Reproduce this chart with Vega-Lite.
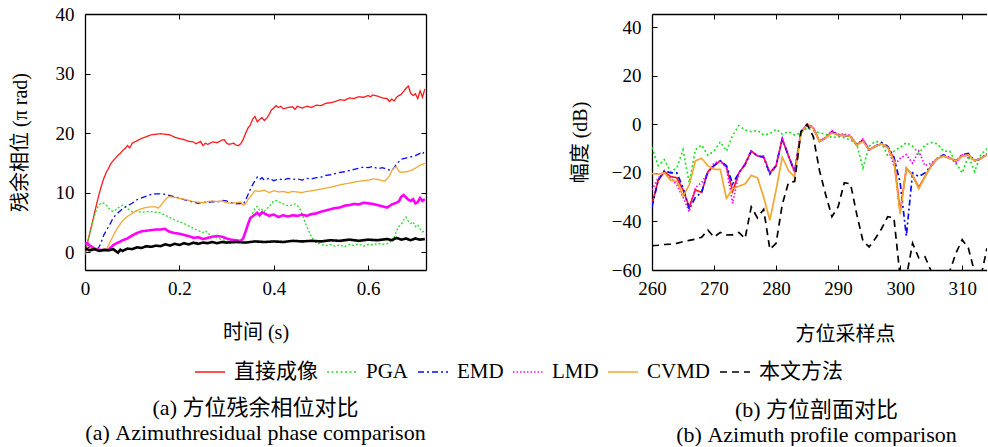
{
  "$schema": "https://vega.github.io/schema/vega-lite/v6.json",
  "padding": {"left": 9, "top": 5, "right": 0, "bottom": 0},
  "background": "white",
  "config": {
    "font": "Liberation Serif, Noto Sans CJK SC",
    "view": {"stroke": null},
    "axis": {
      "grid": false,
      "domainColor": "#000",
      "domainWidth": 1.3,
      "tickColor": "#000",
      "tickWidth": 1,
      "tickSize": -5,
      "labelFlush": false,
      "labelColor": "#000",
      "labelFont": "Liberation Serif, Noto Sans CJK SC",
      "labelFontSize": 19,
      "labelPadding": 16,
      "titleColor": "#000",
      "titleFont": "Liberation Serif, Noto Sans CJK SC",
      "titleFontSize": 20,
      "titleFontWeight": "normal"
    },
    "legend": {
      "orient": "none",
      "legendX": 109,
      "legendY": 342,
      "direction": "horizontal",
      "columns": 6,
      "symbolType": "stroke",
      "symbolSize": 900,
      "symbolStrokeWidth": 1.6,
      "labelFont": "Liberation Serif, Noto Sans CJK SC",
      "labelFontSize": 21,
      "labelColor": "#000",
      "labelOffset": 8,
      "columnPadding": 5,
      "padding": 0
    },
    "title": {
      "font": "Liberation Serif, Noto Sans CJK SC",
      "fontSize": 22,
      "fontWeight": "normal",
      "color": "#000",
      "lineHeight": 25
    }
  },
  "datasets": {
    "phase": [
      {"t": 0, "v": -0.5, "m": "直接成像"}, {"t": 0.005, "v": 1.5, "m": "直接成像"}, {"t": 0.01, "v": 3.2, "m": "直接成像"}, {"t": 0.015, "v": 4.8, "m": "直接成像"}, {"t": 0.02, "v": 6.5, "m": "直接成像"}, {"t": 0.025, "v": 8.2, "m": "直接成像"}, {"t": 0.03, "v": 9.8, "m": "直接成像"}, {"t": 0.035, "v": 11.2, "m": "直接成像"}, {"t": 0.04, "v": 12.4, "m": "直接成像"}, {"t": 0.045, "v": 13.4, "m": "直接成像"}, {"t": 0.05, "v": 14.1, "m": "直接成像"}, {"t": 0.055, "v": 14.9, "m": "直接成像"}, {"t": 0.06, "v": 15.4, "m": "直接成像"}, {"t": 0.065, "v": 15.8, "m": "直接成像"}, {"t": 0.07, "v": 16.3, "m": "直接成像"}, {"t": 0.075, "v": 16.6, "m": "直接成像"}, {"t": 0.08, "v": 17.1, "m": "直接成像"}, {"t": 0.085, "v": 17.4, "m": "直接成像"}, {"t": 0.09, "v": 17.9, "m": "直接成像"}, {"t": 0.095, "v": 17.5, "m": "直接成像"}, {"t": 0.1, "v": 18.3, "m": "直接成像"}, {"t": 0.11, "v": 18.7, "m": "直接成像"}, {"t": 0.12, "v": 19.1, "m": "直接成像"}, {"t": 0.13, "v": 19.4, "m": "直接成像"}, {"t": 0.14, "v": 19.7, "m": "直接成像"}, {"t": 0.15, "v": 19.8, "m": "直接成像"}, {"t": 0.16, "v": 19.9, "m": "直接成像"}, {"t": 0.17, "v": 19.8, "m": "直接成像"}, {"t": 0.18, "v": 19.7, "m": "直接成像"}, {"t": 0.19, "v": 19.3, "m": "直接成像"}, {"t": 0.2, "v": 19.1, "m": "直接成像"}, {"t": 0.21, "v": 18.9, "m": "直接成像"}, {"t": 0.22, "v": 18.6, "m": "直接成像"}, {"t": 0.23, "v": 18.5, "m": "直接成像"}, {"t": 0.235, "v": 18.2, "m": "直接成像"}, {"t": 0.24, "v": 18.4, "m": "直接成像"}, {"t": 0.245, "v": 18.6, "m": "直接成像"}, {"t": 0.25, "v": 17.9, "m": "直接成像"}, {"t": 0.255, "v": 18.3, "m": "直接成像"}, {"t": 0.26, "v": 18.1, "m": "直接成像"}, {"t": 0.27, "v": 18.5, "m": "直接成像"}, {"t": 0.28, "v": 18.4, "m": "直接成像"}, {"t": 0.29, "v": 18.8, "m": "直接成像"}, {"t": 0.295, "v": 18.9, "m": "直接成像"}, {"t": 0.3, "v": 18.3, "m": "直接成像"}, {"t": 0.305, "v": 18.1, "m": "直接成像"}, {"t": 0.31, "v": 18.2, "m": "直接成像"}, {"t": 0.315, "v": 18.3, "m": "直接成像"}, {"t": 0.32, "v": 18.0, "m": "直接成像"}, {"t": 0.325, "v": 17.9, "m": "直接成像"}, {"t": 0.33, "v": 18.2, "m": "直接成像"}, {"t": 0.335, "v": 18.9, "m": "直接成像"}, {"t": 0.34, "v": 19.9, "m": "直接成像"}, {"t": 0.345, "v": 20.8, "m": "直接成像"}, {"t": 0.35, "v": 21.3, "m": "直接成像"}, {"t": 0.355, "v": 22.3, "m": "直接成像"}, {"t": 0.36, "v": 22.8, "m": "直接成像"}, {"t": 0.365, "v": 21.9, "m": "直接成像"}, {"t": 0.37, "v": 22.3, "m": "直接成像"}, {"t": 0.375, "v": 22.6, "m": "直接成像"}, {"t": 0.38, "v": 22.1, "m": "直接成像"}, {"t": 0.385, "v": 22.5, "m": "直接成像"}, {"t": 0.39, "v": 23.1, "m": "直接成像"}, {"t": 0.395, "v": 23.9, "m": "直接成像"}, {"t": 0.4, "v": 24.2, "m": "直接成像"}, {"t": 0.405, "v": 24.6, "m": "直接成像"}, {"t": 0.41, "v": 24.3, "m": "直接成像"}, {"t": 0.415, "v": 24.5, "m": "直接成像"}, {"t": 0.42, "v": 24.1, "m": "直接成像"}, {"t": 0.43, "v": 24.3, "m": "直接成像"}, {"t": 0.44, "v": 24.4, "m": "直接成像"}, {"t": 0.445, "v": 24.0, "m": "直接成像"}, {"t": 0.45, "v": 24.5, "m": "直接成像"}, {"t": 0.46, "v": 24.2, "m": "直接成像"}, {"t": 0.47, "v": 24.5, "m": "直接成像"}, {"t": 0.48, "v": 24.3, "m": "直接成像"}, {"t": 0.49, "v": 24.7, "m": "直接成像"}, {"t": 0.5, "v": 24.6, "m": "直接成像"}, {"t": 0.51, "v": 25.0, "m": "直接成像"}, {"t": 0.52, "v": 25.1, "m": "直接成像"}, {"t": 0.53, "v": 25.3, "m": "直接成像"}, {"t": 0.54, "v": 25.6, "m": "直接成像"}, {"t": 0.55, "v": 25.5, "m": "直接成像"}, {"t": 0.56, "v": 25.9, "m": "直接成像"}, {"t": 0.57, "v": 25.8, "m": "直接成像"}, {"t": 0.58, "v": 26.1, "m": "直接成像"}, {"t": 0.59, "v": 26.0, "m": "直接成像"}, {"t": 0.6, "v": 26.3, "m": "直接成像"}, {"t": 0.605, "v": 26.1, "m": "直接成像"}, {"t": 0.61, "v": 26.4, "m": "直接成像"}, {"t": 0.62, "v": 26.2, "m": "直接成像"}, {"t": 0.63, "v": 25.9, "m": "直接成像"}, {"t": 0.64, "v": 25.8, "m": "直接成像"}, {"t": 0.645, "v": 25.3, "m": "直接成像"}, {"t": 0.65, "v": 25.7, "m": "直接成像"}, {"t": 0.655, "v": 25.4, "m": "直接成像"}, {"t": 0.66, "v": 26.0, "m": "直接成像"}, {"t": 0.665, "v": 26.3, "m": "直接成像"}, {"t": 0.67, "v": 26.5, "m": "直接成像"}, {"t": 0.675, "v": 27.0, "m": "直接成像"}, {"t": 0.68, "v": 27.5, "m": "直接成像"}, {"t": 0.685, "v": 27.9, "m": "直接成像"}, {"t": 0.69, "v": 26.7, "m": "直接成像"}, {"t": 0.695, "v": 26.3, "m": "直接成像"}, {"t": 0.7, "v": 26.6, "m": "直接成像"}, {"t": 0.705, "v": 25.8, "m": "直接成像"}, {"t": 0.71, "v": 27.1, "m": "直接成像"}, {"t": 0.715, "v": 26.0, "m": "直接成像"}, {"t": 0.72, "v": 27.4, "m": "直接成像"},

      {"t": 0, "v": 0.3, "m": "PGA"}, {"t": 0.005, "v": 1.6, "m": "PGA"}, {"t": 0.01, "v": 3.0, "m": "PGA"}, {"t": 0.015, "v": 4.6, "m": "PGA"}, {"t": 0.02, "v": 6.1, "m": "PGA"}, {"t": 0.025, "v": 7.3, "m": "PGA"}, {"t": 0.03, "v": 7.9, "m": "PGA"}, {"t": 0.035, "v": 8.3, "m": "PGA"}, {"t": 0.04, "v": 8.2, "m": "PGA"}, {"t": 0.045, "v": 7.9, "m": "PGA"}, {"t": 0.05, "v": 7.4, "m": "PGA"}, {"t": 0.055, "v": 7.0, "m": "PGA"}, {"t": 0.06, "v": 6.8, "m": "PGA"}, {"t": 0.065, "v": 7.1, "m": "PGA"}, {"t": 0.07, "v": 7.4, "m": "PGA"}, {"t": 0.075, "v": 7.7, "m": "PGA"}, {"t": 0.08, "v": 7.9, "m": "PGA"}, {"t": 0.085, "v": 7.7, "m": "PGA"}, {"t": 0.09, "v": 7.3, "m": "PGA"}, {"t": 0.095, "v": 7.0, "m": "PGA"}, {"t": 0.1, "v": 6.8, "m": "PGA"}, {"t": 0.11, "v": 6.9, "m": "PGA"}, {"t": 0.12, "v": 6.7, "m": "PGA"}, {"t": 0.13, "v": 6.8, "m": "PGA"}, {"t": 0.14, "v": 6.8, "m": "PGA"}, {"t": 0.15, "v": 6.7, "m": "PGA"}, {"t": 0.16, "v": 6.6, "m": "PGA"}, {"t": 0.17, "v": 6.2, "m": "PGA"}, {"t": 0.18, "v": 5.8, "m": "PGA"}, {"t": 0.19, "v": 5.4, "m": "PGA"}, {"t": 0.2, "v": 5.1, "m": "PGA"}, {"t": 0.21, "v": 4.8, "m": "PGA"}, {"t": 0.22, "v": 4.4, "m": "PGA"}, {"t": 0.23, "v": 4.0, "m": "PGA"}, {"t": 0.24, "v": 3.6, "m": "PGA"}, {"t": 0.245, "v": 3.5, "m": "PGA"}, {"t": 0.25, "v": 3.3, "m": "PGA"}, {"t": 0.255, "v": 3.6, "m": "PGA"}, {"t": 0.26, "v": 3.2, "m": "PGA"}, {"t": 0.27, "v": 2.6, "m": "PGA"}, {"t": 0.28, "v": 2.4, "m": "PGA"}, {"t": 0.29, "v": 2.1, "m": "PGA"}, {"t": 0.3, "v": 1.9, "m": "PGA"}, {"t": 0.31, "v": 1.7, "m": "PGA"}, {"t": 0.32, "v": 1.7, "m": "PGA"}, {"t": 0.33, "v": 1.8, "m": "PGA"}, {"t": 0.335, "v": 2.4, "m": "PGA"}, {"t": 0.34, "v": 3.2, "m": "PGA"}, {"t": 0.345, "v": 4.3, "m": "PGA"}, {"t": 0.35, "v": 5.5, "m": "PGA"}, {"t": 0.355, "v": 6.5, "m": "PGA"}, {"t": 0.36, "v": 7.3, "m": "PGA"}, {"t": 0.365, "v": 7.7, "m": "PGA"}, {"t": 0.37, "v": 7.0, "m": "PGA"}, {"t": 0.375, "v": 7.2, "m": "PGA"}, {"t": 0.38, "v": 6.8, "m": "PGA"}, {"t": 0.385, "v": 7.3, "m": "PGA"}, {"t": 0.39, "v": 7.6, "m": "PGA"}, {"t": 0.395, "v": 8.2, "m": "PGA"}, {"t": 0.4, "v": 8.6, "m": "PGA"}, {"t": 0.405, "v": 8.7, "m": "PGA"}, {"t": 0.41, "v": 8.5, "m": "PGA"}, {"t": 0.415, "v": 8.3, "m": "PGA"}, {"t": 0.42, "v": 8.1, "m": "PGA"}, {"t": 0.43, "v": 7.8, "m": "PGA"}, {"t": 0.44, "v": 7.9, "m": "PGA"}, {"t": 0.445, "v": 8.1, "m": "PGA"}, {"t": 0.45, "v": 7.8, "m": "PGA"}, {"t": 0.455, "v": 7.3, "m": "PGA"}, {"t": 0.46, "v": 6.4, "m": "PGA"}, {"t": 0.465, "v": 5.3, "m": "PGA"}, {"t": 0.47, "v": 4.3, "m": "PGA"}, {"t": 0.475, "v": 3.4, "m": "PGA"}, {"t": 0.48, "v": 2.6, "m": "PGA"}, {"t": 0.485, "v": 2.0, "m": "PGA"}, {"t": 0.49, "v": 1.6, "m": "PGA"}, {"t": 0.5, "v": 1.3, "m": "PGA"}, {"t": 0.51, "v": 1.1, "m": "PGA"}, {"t": 0.52, "v": 1.3, "m": "PGA"}, {"t": 0.53, "v": 1.0, "m": "PGA"}, {"t": 0.54, "v": 1.2, "m": "PGA"}, {"t": 0.55, "v": 0.9, "m": "PGA"}, {"t": 0.56, "v": 1.3, "m": "PGA"}, {"t": 0.57, "v": 1.1, "m": "PGA"}, {"t": 0.58, "v": 1.4, "m": "PGA"}, {"t": 0.59, "v": 1.0, "m": "PGA"}, {"t": 0.6, "v": 1.3, "m": "PGA"}, {"t": 0.61, "v": 1.2, "m": "PGA"}, {"t": 0.62, "v": 1.5, "m": "PGA"}, {"t": 0.63, "v": 1.3, "m": "PGA"}, {"t": 0.64, "v": 1.4, "m": "PGA"}, {"t": 0.645, "v": 1.8, "m": "PGA"}, {"t": 0.65, "v": 1.6, "m": "PGA"}, {"t": 0.655, "v": 2.4, "m": "PGA"}, {"t": 0.66, "v": 3.6, "m": "PGA"}, {"t": 0.665, "v": 4.3, "m": "PGA"}, {"t": 0.67, "v": 4.6, "m": "PGA"}, {"t": 0.675, "v": 5.4, "m": "PGA"}, {"t": 0.68, "v": 5.9, "m": "PGA"}, {"t": 0.685, "v": 5.2, "m": "PGA"}, {"t": 0.69, "v": 4.8, "m": "PGA"}, {"t": 0.695, "v": 5.1, "m": "PGA"}, {"t": 0.7, "v": 4.3, "m": "PGA"}, {"t": 0.705, "v": 4.6, "m": "PGA"}, {"t": 0.71, "v": 3.9, "m": "PGA"}, {"t": 0.715, "v": 3.4, "m": "PGA"}, {"t": 0.72, "v": 3.6, "m": "PGA"},

      {"t": 0, "v": 0.3, "m": "EMD"}, {"t": 0.01, "v": 0.9, "m": "EMD"}, {"t": 0.02, "v": 0.6, "m": "EMD"}, {"t": 0.025, "v": 0.4, "m": "EMD"}, {"t": 0.03, "v": 0.9, "m": "EMD"}, {"t": 0.035, "v": 1.8, "m": "EMD"}, {"t": 0.04, "v": 2.9, "m": "EMD"}, {"t": 0.045, "v": 3.6, "m": "EMD"}, {"t": 0.05, "v": 4.3, "m": "EMD"}, {"t": 0.055, "v": 5.0, "m": "EMD"}, {"t": 0.06, "v": 5.8, "m": "EMD"}, {"t": 0.07, "v": 6.6, "m": "EMD"}, {"t": 0.08, "v": 7.3, "m": "EMD"}, {"t": 0.09, "v": 7.8, "m": "EMD"}, {"t": 0.1, "v": 8.2, "m": "EMD"}, {"t": 0.11, "v": 8.8, "m": "EMD"}, {"t": 0.12, "v": 9.1, "m": "EMD"}, {"t": 0.13, "v": 9.4, "m": "EMD"}, {"t": 0.14, "v": 9.7, "m": "EMD"}, {"t": 0.15, "v": 9.8, "m": "EMD"}, {"t": 0.16, "v": 9.8, "m": "EMD"}, {"t": 0.17, "v": 9.7, "m": "EMD"}, {"t": 0.18, "v": 9.5, "m": "EMD"}, {"t": 0.19, "v": 9.3, "m": "EMD"}, {"t": 0.2, "v": 9.1, "m": "EMD"}, {"t": 0.21, "v": 8.8, "m": "EMD"}, {"t": 0.22, "v": 8.6, "m": "EMD"}, {"t": 0.23, "v": 8.4, "m": "EMD"}, {"t": 0.24, "v": 8.2, "m": "EMD"}, {"t": 0.25, "v": 8.4, "m": "EMD"}, {"t": 0.26, "v": 8.3, "m": "EMD"}, {"t": 0.27, "v": 8.5, "m": "EMD"}, {"t": 0.28, "v": 8.4, "m": "EMD"}, {"t": 0.29, "v": 8.7, "m": "EMD"}, {"t": 0.3, "v": 8.6, "m": "EMD"}, {"t": 0.31, "v": 8.3, "m": "EMD"}, {"t": 0.32, "v": 8.1, "m": "EMD"}, {"t": 0.33, "v": 8.2, "m": "EMD"}, {"t": 0.335, "v": 8.0, "m": "EMD"}, {"t": 0.34, "v": 8.7, "m": "EMD"}, {"t": 0.345, "v": 9.6, "m": "EMD"}, {"t": 0.35, "v": 10.5, "m": "EMD"}, {"t": 0.355, "v": 11.3, "m": "EMD"}, {"t": 0.36, "v": 12.0, "m": "EMD"}, {"t": 0.365, "v": 12.6, "m": "EMD"}, {"t": 0.37, "v": 12.2, "m": "EMD"}, {"t": 0.375, "v": 12.5, "m": "EMD"}, {"t": 0.38, "v": 12.1, "m": "EMD"}, {"t": 0.39, "v": 12.4, "m": "EMD"}, {"t": 0.4, "v": 12.0, "m": "EMD"}, {"t": 0.41, "v": 12.3, "m": "EMD"}, {"t": 0.42, "v": 12.1, "m": "EMD"}, {"t": 0.43, "v": 12.4, "m": "EMD"}, {"t": 0.44, "v": 12.2, "m": "EMD"}, {"t": 0.45, "v": 12.3, "m": "EMD"}, {"t": 0.46, "v": 12.1, "m": "EMD"}, {"t": 0.47, "v": 12.4, "m": "EMD"}, {"t": 0.48, "v": 12.3, "m": "EMD"}, {"t": 0.49, "v": 12.5, "m": "EMD"}, {"t": 0.5, "v": 12.6, "m": "EMD"}, {"t": 0.51, "v": 12.9, "m": "EMD"}, {"t": 0.52, "v": 13.0, "m": "EMD"}, {"t": 0.53, "v": 13.2, "m": "EMD"}, {"t": 0.54, "v": 13.4, "m": "EMD"}, {"t": 0.55, "v": 13.5, "m": "EMD"}, {"t": 0.56, "v": 13.7, "m": "EMD"}, {"t": 0.57, "v": 13.9, "m": "EMD"}, {"t": 0.58, "v": 14.1, "m": "EMD"}, {"t": 0.59, "v": 14.3, "m": "EMD"}, {"t": 0.6, "v": 14.2, "m": "EMD"}, {"t": 0.61, "v": 14.4, "m": "EMD"}, {"t": 0.62, "v": 14.0, "m": "EMD"}, {"t": 0.63, "v": 14.2, "m": "EMD"}, {"t": 0.64, "v": 13.9, "m": "EMD"}, {"t": 0.65, "v": 13.7, "m": "EMD"}, {"t": 0.655, "v": 14.2, "m": "EMD"}, {"t": 0.66, "v": 14.8, "m": "EMD"}, {"t": 0.67, "v": 15.6, "m": "EMD"}, {"t": 0.68, "v": 15.8, "m": "EMD"}, {"t": 0.69, "v": 16.0, "m": "EMD"}, {"t": 0.7, "v": 16.2, "m": "EMD"}, {"t": 0.71, "v": 16.6, "m": "EMD"}, {"t": 0.715, "v": 16.4, "m": "EMD"}, {"t": 0.72, "v": 17.2, "m": "EMD"},

      {"t": 0, "v": 1.4, "m": "LMD"}, {"t": 0.005, "v": 1.5, "m": "LMD"}, {"t": 0.01, "v": 1.1, "m": "LMD"}, {"t": 0.015, "v": 0.9, "m": "LMD"}, {"t": 0.02, "v": 0.6, "m": "LMD"}, {"t": 0.03, "v": 0.4, "m": "LMD"}, {"t": 0.04, "v": 0.3, "m": "LMD"}, {"t": 0.05, "v": 0.4, "m": "LMD"}, {"t": 0.055, "v": 0.8, "m": "LMD"}, {"t": 0.06, "v": 1.2, "m": "LMD"}, {"t": 0.07, "v": 1.6, "m": "LMD"}, {"t": 0.08, "v": 2.0, "m": "LMD"}, {"t": 0.09, "v": 2.3, "m": "LMD"}, {"t": 0.1, "v": 2.8, "m": "LMD"}, {"t": 0.11, "v": 3.2, "m": "LMD"}, {"t": 0.12, "v": 3.5, "m": "LMD"}, {"t": 0.13, "v": 3.6, "m": "LMD"}, {"t": 0.14, "v": 3.7, "m": "LMD"}, {"t": 0.15, "v": 3.8, "m": "LMD"}, {"t": 0.16, "v": 3.8, "m": "LMD"}, {"t": 0.17, "v": 3.9, "m": "LMD"}, {"t": 0.175, "v": 3.6, "m": "LMD"}, {"t": 0.18, "v": 3.4, "m": "LMD"}, {"t": 0.19, "v": 3.2, "m": "LMD"}, {"t": 0.2, "v": 3.1, "m": "LMD"}, {"t": 0.21, "v": 2.9, "m": "LMD"}, {"t": 0.22, "v": 2.7, "m": "LMD"}, {"t": 0.23, "v": 2.4, "m": "LMD"}, {"t": 0.24, "v": 2.5, "m": "LMD"}, {"t": 0.25, "v": 2.2, "m": "LMD"}, {"t": 0.26, "v": 2.4, "m": "LMD"}, {"t": 0.27, "v": 2.6, "m": "LMD"}, {"t": 0.28, "v": 2.7, "m": "LMD"}, {"t": 0.29, "v": 2.6, "m": "LMD"}, {"t": 0.3, "v": 2.3, "m": "LMD"}, {"t": 0.31, "v": 2.1, "m": "LMD"}, {"t": 0.32, "v": 2.0, "m": "LMD"}, {"t": 0.33, "v": 1.9, "m": "LMD"}, {"t": 0.335, "v": 2.3, "m": "LMD"}, {"t": 0.34, "v": 3.4, "m": "LMD"}, {"t": 0.345, "v": 4.6, "m": "LMD"}, {"t": 0.35, "v": 5.7, "m": "LMD"}, {"t": 0.355, "v": 6.0, "m": "LMD"}, {"t": 0.36, "v": 6.3, "m": "LMD"}, {"t": 0.365, "v": 6.6, "m": "LMD"}, {"t": 0.37, "v": 6.2, "m": "LMD"}, {"t": 0.375, "v": 6.7, "m": "LMD"}, {"t": 0.38, "v": 6.5, "m": "LMD"}, {"t": 0.39, "v": 6.1, "m": "LMD"}, {"t": 0.4, "v": 6.3, "m": "LMD"}, {"t": 0.41, "v": 5.9, "m": "LMD"}, {"t": 0.42, "v": 6.2, "m": "LMD"}, {"t": 0.43, "v": 6.0, "m": "LMD"}, {"t": 0.44, "v": 6.2, "m": "LMD"}, {"t": 0.45, "v": 6.1, "m": "LMD"}, {"t": 0.46, "v": 6.3, "m": "LMD"}, {"t": 0.47, "v": 6.1, "m": "LMD"}, {"t": 0.48, "v": 6.4, "m": "LMD"}, {"t": 0.49, "v": 6.5, "m": "LMD"}, {"t": 0.5, "v": 6.8, "m": "LMD"}, {"t": 0.51, "v": 7.0, "m": "LMD"}, {"t": 0.52, "v": 7.2, "m": "LMD"}, {"t": 0.53, "v": 7.4, "m": "LMD"}, {"t": 0.54, "v": 7.5, "m": "LMD"}, {"t": 0.55, "v": 7.8, "m": "LMD"}, {"t": 0.56, "v": 7.9, "m": "LMD"}, {"t": 0.57, "v": 8.1, "m": "LMD"}, {"t": 0.58, "v": 8.0, "m": "LMD"}, {"t": 0.59, "v": 8.3, "m": "LMD"}, {"t": 0.6, "v": 8.2, "m": "LMD"}, {"t": 0.61, "v": 8.1, "m": "LMD"}, {"t": 0.62, "v": 7.9, "m": "LMD"}, {"t": 0.63, "v": 7.7, "m": "LMD"}, {"t": 0.64, "v": 7.5, "m": "LMD"}, {"t": 0.65, "v": 8.0, "m": "LMD"}, {"t": 0.66, "v": 8.3, "m": "LMD"}, {"t": 0.665, "v": 8.5, "m": "LMD"}, {"t": 0.67, "v": 9.3, "m": "LMD"}, {"t": 0.675, "v": 9.6, "m": "LMD"}, {"t": 0.68, "v": 9.2, "m": "LMD"}, {"t": 0.685, "v": 8.8, "m": "LMD"}, {"t": 0.69, "v": 8.6, "m": "LMD"}, {"t": 0.695, "v": 8.9, "m": "LMD"}, {"t": 0.7, "v": 8.2, "m": "LMD"}, {"t": 0.705, "v": 8.4, "m": "LMD"}, {"t": 0.71, "v": 9.1, "m": "LMD"}, {"t": 0.715, "v": 8.6, "m": "LMD"}, {"t": 0.72, "v": 8.9, "m": "LMD"},

      {"t": 0, "v": 0.6, "m": "CVMD"}, {"t": 0.01, "v": 0.5, "m": "CVMD"}, {"t": 0.02, "v": 0.6, "m": "CVMD"}, {"t": 0.03, "v": 0.3, "m": "CVMD"}, {"t": 0.04, "v": 0.2, "m": "CVMD"}, {"t": 0.045, "v": 0.4, "m": "CVMD"}, {"t": 0.05, "v": 1.2, "m": "CVMD"}, {"t": 0.055, "v": 2.0, "m": "CVMD"}, {"t": 0.06, "v": 2.8, "m": "CVMD"}, {"t": 0.07, "v": 4.2, "m": "CVMD"}, {"t": 0.08, "v": 5.3, "m": "CVMD"}, {"t": 0.09, "v": 6.0, "m": "CVMD"}, {"t": 0.1, "v": 6.5, "m": "CVMD"}, {"t": 0.11, "v": 7.0, "m": "CVMD"}, {"t": 0.12, "v": 7.3, "m": "CVMD"}, {"t": 0.13, "v": 7.5, "m": "CVMD"}, {"t": 0.14, "v": 7.6, "m": "CVMD"}, {"t": 0.15, "v": 7.6, "m": "CVMD"}, {"t": 0.155, "v": 7.4, "m": "CVMD"}, {"t": 0.16, "v": 7.8, "m": "CVMD"}, {"t": 0.165, "v": 8.3, "m": "CVMD"}, {"t": 0.17, "v": 8.8, "m": "CVMD"}, {"t": 0.175, "v": 9.2, "m": "CVMD"}, {"t": 0.18, "v": 9.3, "m": "CVMD"}, {"t": 0.19, "v": 9.2, "m": "CVMD"}, {"t": 0.2, "v": 9.0, "m": "CVMD"}, {"t": 0.21, "v": 8.9, "m": "CVMD"}, {"t": 0.22, "v": 8.7, "m": "CVMD"}, {"t": 0.23, "v": 8.5, "m": "CVMD"}, {"t": 0.24, "v": 8.4, "m": "CVMD"}, {"t": 0.25, "v": 8.3, "m": "CVMD"}, {"t": 0.26, "v": 8.5, "m": "CVMD"}, {"t": 0.27, "v": 8.6, "m": "CVMD"}, {"t": 0.28, "v": 8.5, "m": "CVMD"}, {"t": 0.29, "v": 8.6, "m": "CVMD"}, {"t": 0.3, "v": 8.3, "m": "CVMD"}, {"t": 0.31, "v": 8.2, "m": "CVMD"}, {"t": 0.32, "v": 8.3, "m": "CVMD"}, {"t": 0.33, "v": 8.4, "m": "CVMD"}, {"t": 0.335, "v": 7.9, "m": "CVMD"}, {"t": 0.34, "v": 8.1, "m": "CVMD"}, {"t": 0.345, "v": 8.8, "m": "CVMD"}, {"t": 0.35, "v": 9.3, "m": "CVMD"}, {"t": 0.355, "v": 9.8, "m": "CVMD"}, {"t": 0.36, "v": 10.3, "m": "CVMD"}, {"t": 0.37, "v": 10.2, "m": "CVMD"}, {"t": 0.38, "v": 10.4, "m": "CVMD"}, {"t": 0.39, "v": 10.0, "m": "CVMD"}, {"t": 0.4, "v": 10.3, "m": "CVMD"}, {"t": 0.41, "v": 10.1, "m": "CVMD"}, {"t": 0.42, "v": 10.2, "m": "CVMD"}, {"t": 0.43, "v": 10.0, "m": "CVMD"}, {"t": 0.44, "v": 10.2, "m": "CVMD"}, {"t": 0.45, "v": 10.1, "m": "CVMD"}, {"t": 0.46, "v": 10.0, "m": "CVMD"}, {"t": 0.47, "v": 10.2, "m": "CVMD"}, {"t": 0.48, "v": 10.3, "m": "CVMD"}, {"t": 0.5, "v": 10.6, "m": "CVMD"}, {"t": 0.52, "v": 10.9, "m": "CVMD"}, {"t": 0.54, "v": 11.3, "m": "CVMD"}, {"t": 0.56, "v": 11.6, "m": "CVMD"}, {"t": 0.58, "v": 11.9, "m": "CVMD"}, {"t": 0.6, "v": 12.1, "m": "CVMD"}, {"t": 0.61, "v": 12.3, "m": "CVMD"}, {"t": 0.62, "v": 12.2, "m": "CVMD"}, {"t": 0.63, "v": 12.0, "m": "CVMD"}, {"t": 0.635, "v": 11.9, "m": "CVMD"}, {"t": 0.64, "v": 12.3, "m": "CVMD"}, {"t": 0.645, "v": 12.8, "m": "CVMD"}, {"t": 0.65, "v": 13.7, "m": "CVMD"}, {"t": 0.655, "v": 14.2, "m": "CVMD"}, {"t": 0.66, "v": 14.3, "m": "CVMD"}, {"t": 0.665, "v": 13.6, "m": "CVMD"}, {"t": 0.67, "v": 13.4, "m": "CVMD"}, {"t": 0.68, "v": 13.5, "m": "CVMD"}, {"t": 0.69, "v": 13.7, "m": "CVMD"}, {"t": 0.7, "v": 14.1, "m": "CVMD"}, {"t": 0.71, "v": 14.6, "m": "CVMD"}, {"t": 0.72, "v": 14.9, "m": "CVMD"},

      {"t": 0, "v": 0.6, "m": "本文方法"}, {"t": 0.01, "v": 0.3, "m": "本文方法"}, {"t": 0.02, "v": 0.5, "m": "本文方法"}, {"t": 0.03, "v": 0.2, "m": "本文方法"}, {"t": 0.04, "v": 0.4, "m": "本文方法"}, {"t": 0.05, "v": 0.3, "m": "本文方法"}, {"t": 0.06, "v": 0.5, "m": "本文方法"}, {"t": 0.065, "v": 0.2, "m": "本文方法"}, {"t": 0.07, "v": -0.1, "m": "本文方法"}, {"t": 0.075, "v": 0.4, "m": "本文方法"}, {"t": 0.08, "v": 0.2, "m": "本文方法"}, {"t": 0.09, "v": 0.6, "m": "本文方法"}, {"t": 0.1, "v": 0.5, "m": "本文方法"}, {"t": 0.11, "v": 0.8, "m": "本文方法"}, {"t": 0.12, "v": 0.7, "m": "本文方法"}, {"t": 0.13, "v": 1.0, "m": "本文方法"}, {"t": 0.14, "v": 0.9, "m": "本文方法"}, {"t": 0.15, "v": 1.1, "m": "本文方法"}, {"t": 0.16, "v": 1.0, "m": "本文方法"}, {"t": 0.17, "v": 1.3, "m": "本文方法"}, {"t": 0.18, "v": 1.1, "m": "本文方法"}, {"t": 0.19, "v": 1.4, "m": "本文方法"}, {"t": 0.2, "v": 1.2, "m": "本文方法"}, {"t": 0.21, "v": 1.5, "m": "本文方法"}, {"t": 0.22, "v": 1.3, "m": "本文方法"}, {"t": 0.23, "v": 1.6, "m": "本文方法"}, {"t": 0.24, "v": 1.4, "m": "本文方法"}, {"t": 0.25, "v": 1.6, "m": "本文方法"}, {"t": 0.26, "v": 1.5, "m": "本文方法"}, {"t": 0.27, "v": 1.7, "m": "本文方法"}, {"t": 0.28, "v": 1.5, "m": "本文方法"}, {"t": 0.29, "v": 1.7, "m": "本文方法"}, {"t": 0.3, "v": 1.6, "m": "本文方法"}, {"t": 0.32, "v": 1.7, "m": "本文方法"}, {"t": 0.34, "v": 1.6, "m": "本文方法"}, {"t": 0.36, "v": 1.8, "m": "本文方法"}, {"t": 0.38, "v": 1.7, "m": "本文方法"}, {"t": 0.4, "v": 1.8, "m": "本文方法"}, {"t": 0.42, "v": 1.7, "m": "本文方法"}, {"t": 0.44, "v": 1.9, "m": "本文方法"}, {"t": 0.46, "v": 1.8, "m": "本文方法"}, {"t": 0.48, "v": 1.9, "m": "本文方法"}, {"t": 0.5, "v": 1.8, "m": "本文方法"}, {"t": 0.52, "v": 2.0, "m": "本文方法"}, {"t": 0.54, "v": 1.9, "m": "本文方法"}, {"t": 0.56, "v": 2.1, "m": "本文方法"}, {"t": 0.58, "v": 1.9, "m": "本文方法"}, {"t": 0.6, "v": 2.1, "m": "本文方法"}, {"t": 0.62, "v": 2.0, "m": "本文方法"}, {"t": 0.64, "v": 2.2, "m": "本文方法"}, {"t": 0.65, "v": 2.0, "m": "本文方法"}, {"t": 0.66, "v": 2.4, "m": "本文方法"}, {"t": 0.67, "v": 2.1, "m": "本文方法"}, {"t": 0.68, "v": 2.3, "m": "本文方法"}, {"t": 0.69, "v": 2.0, "m": "本文方法"}, {"t": 0.7, "v": 2.3, "m": "本文方法"}, {"t": 0.71, "v": 2.1, "m": "本文方法"}, {"t": 0.72, "v": 2.2, "m": "本文方法"}
    ],
    "profile": [
      {"x": 260, "v": -33, "m": "直接成像"}, {"x": 261, "v": -23, "m": "直接成像"}, {"x": 262, "v": -19.5, "m": "直接成像"}, {"x": 263, "v": -21.5, "m": "直接成像"}, {"x": 264, "v": -22, "m": "直接成像"}, {"x": 265, "v": -27, "m": "直接成像"}, {"x": 266, "v": -34, "m": "直接成像"}, {"x": 267, "v": -27, "m": "直接成像"}, {"x": 268, "v": -28, "m": "直接成像"}, {"x": 269, "v": -19.5, "m": "直接成像"}, {"x": 270, "v": -17, "m": "直接成像"}, {"x": 271, "v": -15, "m": "直接成像"}, {"x": 272, "v": -17.5, "m": "直接成像"}, {"x": 273, "v": -27.5, "m": "直接成像"}, {"x": 274, "v": -20, "m": "直接成像"}, {"x": 275, "v": -16.5, "m": "直接成像"}, {"x": 276, "v": -11, "m": "直接成像"}, {"x": 277, "v": -13, "m": "直接成像"}, {"x": 278, "v": -13.5, "m": "直接成像"}, {"x": 279, "v": -20, "m": "直接成像"}, {"x": 280, "v": -17, "m": "直接成像"}, {"x": 281, "v": -6, "m": "直接成像"}, {"x": 282, "v": -13, "m": "直接成像"}, {"x": 283, "v": -19.5, "m": "直接成像"}, {"x": 284, "v": -3.5, "m": "直接成像"}, {"x": 285, "v": 0, "m": "直接成像"}, {"x": 286, "v": -1.5, "m": "直接成像"}, {"x": 287, "v": -7, "m": "直接成像"}, {"x": 288, "v": -5.5, "m": "直接成像"}, {"x": 289, "v": -3, "m": "直接成像"}, {"x": 290, "v": -4.5, "m": "直接成像"}, {"x": 291, "v": -4.5, "m": "直接成像"}, {"x": 292, "v": -5, "m": "直接成像"}, {"x": 293, "v": -8.5, "m": "直接成像"}, {"x": 294, "v": -6.5, "m": "直接成像"}, {"x": 295, "v": -10.5, "m": "直接成像"}, {"x": 296, "v": -9, "m": "直接成像"}, {"x": 297, "v": -8, "m": "直接成像"}, {"x": 298, "v": -9.5, "m": "直接成像"}, {"x": 299, "v": -14, "m": "直接成像"}, {"x": 300, "v": -36, "m": "直接成像"}, {"x": 301, "v": -18, "m": "直接成像"}, {"x": 302, "v": -21, "m": "直接成像"}, {"x": 303, "v": -26, "m": "直接成像"}, {"x": 304, "v": -21.5, "m": "直接成像"}, {"x": 305, "v": -17, "m": "直接成像"}, {"x": 306, "v": -14, "m": "直接成像"}, {"x": 307, "v": -13, "m": "直接成像"}, {"x": 308, "v": -14, "m": "直接成像"}, {"x": 309, "v": -15, "m": "直接成像"}, {"x": 310, "v": -13, "m": "直接成像"}, {"x": 311, "v": -12.5, "m": "直接成像"}, {"x": 312, "v": -15, "m": "直接成像"}, {"x": 313, "v": -14, "m": "直接成像"}, {"x": 314, "v": -12.5, "m": "直接成像"},

      {"x": 260, "v": -9.5, "m": "PGA"}, {"x": 261, "v": -17, "m": "PGA"}, {"x": 262, "v": -14.5, "m": "PGA"}, {"x": 263, "v": -19.5, "m": "PGA"}, {"x": 264, "v": -18, "m": "PGA"}, {"x": 265, "v": -10.5, "m": "PGA"}, {"x": 266, "v": -24, "m": "PGA"}, {"x": 267, "v": -10.5, "m": "PGA"}, {"x": 268, "v": -8.5, "m": "PGA"}, {"x": 269, "v": -12.7, "m": "PGA"}, {"x": 270, "v": -11, "m": "PGA"}, {"x": 271, "v": -7.2, "m": "PGA"}, {"x": 272, "v": -11, "m": "PGA"}, {"x": 273, "v": -4.5, "m": "PGA"}, {"x": 274, "v": -0.5, "m": "PGA"}, {"x": 275, "v": -2.3, "m": "PGA"}, {"x": 276, "v": -3, "m": "PGA"}, {"x": 277, "v": -2.5, "m": "PGA"}, {"x": 278, "v": -4.4, "m": "PGA"}, {"x": 279, "v": -3.8, "m": "PGA"}, {"x": 280, "v": -2, "m": "PGA"}, {"x": 281, "v": -4, "m": "PGA"}, {"x": 282, "v": -3, "m": "PGA"}, {"x": 283, "v": -4.4, "m": "PGA"}, {"x": 284, "v": -3.5, "m": "PGA"}, {"x": 285, "v": -1.5, "m": "PGA"}, {"x": 286, "v": -2.5, "m": "PGA"}, {"x": 287, "v": -3.5, "m": "PGA"}, {"x": 288, "v": -4, "m": "PGA"}, {"x": 289, "v": -5.5, "m": "PGA"}, {"x": 290, "v": -5, "m": "PGA"}, {"x": 291, "v": -5.5, "m": "PGA"}, {"x": 292, "v": -6.5, "m": "PGA"}, {"x": 293, "v": -8, "m": "PGA"}, {"x": 294, "v": -18, "m": "PGA"}, {"x": 295, "v": -9, "m": "PGA"}, {"x": 296, "v": -7, "m": "PGA"}, {"x": 297, "v": -7.5, "m": "PGA"}, {"x": 298, "v": -13, "m": "PGA"}, {"x": 299, "v": -11, "m": "PGA"}, {"x": 300, "v": -9.5, "m": "PGA"}, {"x": 301, "v": -7.5, "m": "PGA"}, {"x": 302, "v": -9, "m": "PGA"}, {"x": 303, "v": -12, "m": "PGA"}, {"x": 304, "v": -8.5, "m": "PGA"}, {"x": 305, "v": -7.5, "m": "PGA"}, {"x": 306, "v": -8, "m": "PGA"}, {"x": 307, "v": -11, "m": "PGA"}, {"x": 308, "v": -11, "m": "PGA"}, {"x": 309, "v": -16, "m": "PGA"}, {"x": 310, "v": -20, "m": "PGA"}, {"x": 311, "v": -13, "m": "PGA"}, {"x": 312, "v": -19.5, "m": "PGA"}, {"x": 313, "v": -12.5, "m": "PGA"}, {"x": 314, "v": -10, "m": "PGA"},

      {"x": 260, "v": -34, "m": "EMD"}, {"x": 261, "v": -23, "m": "EMD"}, {"x": 262, "v": -19, "m": "EMD"}, {"x": 263, "v": -20, "m": "EMD"}, {"x": 264, "v": -20, "m": "EMD"}, {"x": 265, "v": -26, "m": "EMD"}, {"x": 266, "v": -35, "m": "EMD"}, {"x": 267, "v": -30, "m": "EMD"}, {"x": 268, "v": -28, "m": "EMD"}, {"x": 269, "v": -19.5, "m": "EMD"}, {"x": 270, "v": -17, "m": "EMD"}, {"x": 271, "v": -15, "m": "EMD"}, {"x": 272, "v": -17, "m": "EMD"}, {"x": 273, "v": -24.5, "m": "EMD"}, {"x": 274, "v": -20, "m": "EMD"}, {"x": 275, "v": -16.5, "m": "EMD"}, {"x": 276, "v": -11, "m": "EMD"}, {"x": 277, "v": -13, "m": "EMD"}, {"x": 278, "v": -13.5, "m": "EMD"}, {"x": 279, "v": -20.5, "m": "EMD"}, {"x": 280, "v": -17, "m": "EMD"}, {"x": 281, "v": -6, "m": "EMD"}, {"x": 282, "v": -13, "m": "EMD"}, {"x": 283, "v": -19.5, "m": "EMD"}, {"x": 284, "v": -3.5, "m": "EMD"}, {"x": 285, "v": 0, "m": "EMD"}, {"x": 286, "v": -1.5, "m": "EMD"}, {"x": 287, "v": -7, "m": "EMD"}, {"x": 288, "v": -5.5, "m": "EMD"}, {"x": 289, "v": -3, "m": "EMD"}, {"x": 290, "v": -4.5, "m": "EMD"}, {"x": 291, "v": -4.5, "m": "EMD"}, {"x": 292, "v": -5, "m": "EMD"}, {"x": 293, "v": -8.5, "m": "EMD"}, {"x": 294, "v": -6.5, "m": "EMD"}, {"x": 295, "v": -10.5, "m": "EMD"}, {"x": 296, "v": -9, "m": "EMD"}, {"x": 297, "v": -7.5, "m": "EMD"}, {"x": 298, "v": -9, "m": "EMD"}, {"x": 299, "v": -13.5, "m": "EMD"}, {"x": 300, "v": -24, "m": "EMD"}, {"x": 301, "v": -46, "m": "EMD"}, {"x": 302, "v": -20, "m": "EMD"}, {"x": 303, "v": -21.5, "m": "EMD"}, {"x": 304, "v": -20, "m": "EMD"}, {"x": 305, "v": -17, "m": "EMD"}, {"x": 306, "v": -14, "m": "EMD"}, {"x": 307, "v": -12.5, "m": "EMD"}, {"x": 308, "v": -14, "m": "EMD"}, {"x": 309, "v": -15, "m": "EMD"}, {"x": 310, "v": -12.5, "m": "EMD"}, {"x": 311, "v": -12, "m": "EMD"}, {"x": 312, "v": -15, "m": "EMD"}, {"x": 313, "v": -14, "m": "EMD"}, {"x": 314, "v": -12, "m": "EMD"},

      {"x": 260, "v": -27, "m": "LMD"}, {"x": 261, "v": -22, "m": "LMD"}, {"x": 262, "v": -20, "m": "LMD"}, {"x": 263, "v": -22, "m": "LMD"}, {"x": 264, "v": -25, "m": "LMD"}, {"x": 265, "v": -30, "m": "LMD"}, {"x": 266, "v": -36, "m": "LMD"}, {"x": 267, "v": -26, "m": "LMD"}, {"x": 268, "v": -24, "m": "LMD"}, {"x": 269, "v": -20, "m": "LMD"}, {"x": 270, "v": -16, "m": "LMD"}, {"x": 271, "v": -15, "m": "LMD"}, {"x": 272, "v": -18, "m": "LMD"}, {"x": 273, "v": -32.5, "m": "LMD"}, {"x": 274, "v": -20, "m": "LMD"}, {"x": 275, "v": -16, "m": "LMD"}, {"x": 276, "v": -11, "m": "LMD"}, {"x": 277, "v": -13, "m": "LMD"}, {"x": 278, "v": -13, "m": "LMD"}, {"x": 279, "v": -20, "m": "LMD"}, {"x": 280, "v": -17, "m": "LMD"}, {"x": 281, "v": -5.5, "m": "LMD"}, {"x": 282, "v": -13, "m": "LMD"}, {"x": 283, "v": -20, "m": "LMD"}, {"x": 284, "v": -3, "m": "LMD"}, {"x": 285, "v": 0, "m": "LMD"}, {"x": 286, "v": -1, "m": "LMD"}, {"x": 287, "v": -7, "m": "LMD"}, {"x": 288, "v": -5.5, "m": "LMD"}, {"x": 289, "v": -2.5, "m": "LMD"}, {"x": 290, "v": -4, "m": "LMD"}, {"x": 291, "v": -4, "m": "LMD"}, {"x": 292, "v": -4.5, "m": "LMD"}, {"x": 293, "v": -8.5, "m": "LMD"}, {"x": 294, "v": -6, "m": "LMD"}, {"x": 295, "v": -10.5, "m": "LMD"}, {"x": 296, "v": -9, "m": "LMD"}, {"x": 297, "v": -8, "m": "LMD"}, {"x": 298, "v": -9.5, "m": "LMD"}, {"x": 299, "v": -17, "m": "LMD"}, {"x": 300, "v": -14, "m": "LMD"}, {"x": 301, "v": -12.5, "m": "LMD"}, {"x": 302, "v": -16, "m": "LMD"}, {"x": 303, "v": -11, "m": "LMD"}, {"x": 304, "v": -17, "m": "LMD"}, {"x": 305, "v": -16, "m": "LMD"}, {"x": 306, "v": -14, "m": "LMD"}, {"x": 307, "v": -13, "m": "LMD"}, {"x": 308, "v": -13.5, "m": "LMD"}, {"x": 309, "v": -16, "m": "LMD"}, {"x": 310, "v": -12.5, "m": "LMD"}, {"x": 311, "v": -13, "m": "LMD"}, {"x": 312, "v": -15, "m": "LMD"}, {"x": 313, "v": -14, "m": "LMD"}, {"x": 314, "v": -12, "m": "LMD"},

      {"x": 260, "v": -20.3, "m": "CVMD"}, {"x": 261, "v": -20.5, "m": "CVMD"}, {"x": 262, "v": -20, "m": "CVMD"}, {"x": 263, "v": -23, "m": "CVMD"}, {"x": 264, "v": -23.5, "m": "CVMD"}, {"x": 265, "v": -29.5, "m": "CVMD"}, {"x": 266, "v": -25, "m": "CVMD"}, {"x": 267, "v": -15, "m": "CVMD"}, {"x": 268, "v": -14, "m": "CVMD"}, {"x": 269, "v": -17, "m": "CVMD"}, {"x": 270, "v": -18.5, "m": "CVMD"}, {"x": 271, "v": -18.5, "m": "CVMD"}, {"x": 272, "v": -30.5, "m": "CVMD"}, {"x": 273, "v": -26.5, "m": "CVMD"}, {"x": 274, "v": -25.5, "m": "CVMD"}, {"x": 275, "v": -24.5, "m": "CVMD"}, {"x": 276, "v": -21, "m": "CVMD"}, {"x": 277, "v": -22, "m": "CVMD"}, {"x": 278, "v": -30, "m": "CVMD"}, {"x": 279, "v": -39.5, "m": "CVMD"}, {"x": 280, "v": -27, "m": "CVMD"}, {"x": 281, "v": -13.5, "m": "CVMD"}, {"x": 282, "v": -19, "m": "CVMD"}, {"x": 283, "v": -21.7, "m": "CVMD"}, {"x": 284, "v": -3.7, "m": "CVMD"}, {"x": 285, "v": 0, "m": "CVMD"}, {"x": 286, "v": -1.5, "m": "CVMD"}, {"x": 287, "v": -7, "m": "CVMD"}, {"x": 288, "v": -5.5, "m": "CVMD"}, {"x": 289, "v": -3.5, "m": "CVMD"}, {"x": 290, "v": -4.5, "m": "CVMD"}, {"x": 291, "v": -4.5, "m": "CVMD"}, {"x": 292, "v": -5, "m": "CVMD"}, {"x": 293, "v": -8.5, "m": "CVMD"}, {"x": 294, "v": -7, "m": "CVMD"}, {"x": 295, "v": -10.5, "m": "CVMD"}, {"x": 296, "v": -9, "m": "CVMD"}, {"x": 297, "v": -8, "m": "CVMD"}, {"x": 298, "v": -9.5, "m": "CVMD"}, {"x": 299, "v": -15, "m": "CVMD"}, {"x": 300, "v": -37, "m": "CVMD"}, {"x": 301, "v": -18, "m": "CVMD"}, {"x": 302, "v": -21, "m": "CVMD"}, {"x": 303, "v": -26.5, "m": "CVMD"}, {"x": 304, "v": -21.5, "m": "CVMD"}, {"x": 305, "v": -17, "m": "CVMD"}, {"x": 306, "v": -14, "m": "CVMD"}, {"x": 307, "v": -13, "m": "CVMD"}, {"x": 308, "v": -14, "m": "CVMD"}, {"x": 309, "v": -15, "m": "CVMD"}, {"x": 310, "v": -13, "m": "CVMD"}, {"x": 311, "v": -12.5, "m": "CVMD"}, {"x": 312, "v": -15, "m": "CVMD"}, {"x": 313, "v": -14, "m": "CVMD"}, {"x": 314, "v": -12.5, "m": "CVMD"},

      {"x": 260, "v": -50, "m": "本文方法"}, {"x": 261, "v": -49.8, "m": "本文方法"}, {"x": 262, "v": -49.5, "m": "本文方法"}, {"x": 263, "v": -49.3, "m": "本文方法"}, {"x": 264, "v": -49, "m": "本文方法"}, {"x": 265, "v": -48.3, "m": "本文方法"}, {"x": 266, "v": -47.8, "m": "本文方法"}, {"x": 267, "v": -47.3, "m": "本文方法"}, {"x": 268, "v": -46.5, "m": "本文方法"}, {"x": 269, "v": -43.5, "m": "本文方法"}, {"x": 270, "v": -46.5, "m": "本文方法"}, {"x": 271, "v": -44.5, "m": "本文方法"}, {"x": 272, "v": -45.5, "m": "本文方法"}, {"x": 273, "v": -45.5, "m": "本文方法"}, {"x": 274, "v": -44.5, "m": "本文方法"}, {"x": 275, "v": -47, "m": "本文方法"}, {"x": 276, "v": -34, "m": "本文方法"}, {"x": 277, "v": -38.5, "m": "本文方法"}, {"x": 278, "v": -35, "m": "本文方法"}, {"x": 279, "v": -51.5, "m": "本文方法"}, {"x": 280, "v": -49, "m": "本文方法"}, {"x": 281, "v": -33, "m": "本文方法"}, {"x": 282, "v": -24, "m": "本文方法"}, {"x": 283, "v": -23.5, "m": "本文方法"}, {"x": 284, "v": -3, "m": "本文方法"}, {"x": 285, "v": 0, "m": "本文方法"}, {"x": 286, "v": -5, "m": "本文方法"}, {"x": 287, "v": -19, "m": "本文方法"}, {"x": 288, "v": -29, "m": "本文方法"}, {"x": 289, "v": -38, "m": "本文方法"}, {"x": 290, "v": -34, "m": "本文方法"}, {"x": 291, "v": -24, "m": "本文方法"}, {"x": 292, "v": -24.5, "m": "本文方法"}, {"x": 293, "v": -37, "m": "本文方法"}, {"x": 294, "v": -48, "m": "本文方法"}, {"x": 295, "v": -50.5, "m": "本文方法"}, {"x": 296, "v": -47, "m": "本文方法"}, {"x": 297, "v": -43, "m": "本文方法"}, {"x": 298, "v": -38, "m": "本文方法"}, {"x": 299, "v": -38.5, "m": "本文方法"}, {"x": 300, "v": -63, "m": "本文方法"}, {"x": 301, "v": -63, "m": "本文方法"}, {"x": 302, "v": -49, "m": "本文方法"}, {"x": 303, "v": -55, "m": "本文方法"}, {"x": 304, "v": -54.5, "m": "本文方法"}, {"x": 305, "v": -60.5, "m": "本文方法"}, {"x": 306, "v": -63, "m": "本文方法"}, {"x": 307, "v": -63, "m": "本文方法"}, {"x": 308, "v": -60.5, "m": "本文方法"}, {"x": 309, "v": -53, "m": "本文方法"}, {"x": 310, "v": -47.5, "m": "本文方法"}, {"x": 311, "v": -51, "m": "本文方法"}, {"x": 312, "v": -61, "m": "本文方法"}, {"x": 313, "v": -63, "m": "本文方法"}, {"x": 314, "v": -51, "m": "本文方法"}
    ]
  },
  "bounds": "flush",
  "spacing": 226,
  "hconcat": [
    {
      "width": 341,
      "height": 256,
      "title": {
        "text": ["(a) 方位残余相位对比", "(a) Azimuthresidual phase comparison"],
        "orient": "bottom",
        "anchor": "middle",
        "offset": 56
      },
      "layer": [
        {
          "data": {"name": "phase"},
          "mark": {"type": "line", "clip": true},
          "encoding": {
            "x": {
              "field": "t", "type": "quantitative",
              "scale": {"domain": [0, 0.7225], "nice": false, "zero": false},
              "axis": {"values": [0, 0.2, 0.4, 0.6], "format": "~g", "title": "时间 (s)", "labelPadding": 14, "titleBaseline": "middle", "titleY": 62}
            },
            "y": {
              "field": "v", "type": "quantitative",
              "scale": {"domain": [-3, 40], "nice": false, "zero": false},
              "axis": {"values": [0, 10, 20, 30, 40], "title": "残余相位 (π rad)", "titleX": -55}
            },
            "color": {
              "field": "m", "type": "nominal", "title": null,
              "scale": {
                "domain": ["直接成像", "PGA", "EMD", "LMD", "CVMD", "本文方法"],
                "range": ["#ff1a1a", "#22e022", "#0a0aff", "#ff00ff", "#f2a731", "#000000"]
              }
            },
            "strokeDash": {
              "condition": [
                {"test": "datum.m === 'PGA'", "value": [2, 2]},
                {"test": "datum.m === 'EMD'", "value": [6, 3, 2, 3]}
              ],
              "value": [1, 0]
            },
            "strokeWidth": {
              "condition": {"test": "datum.m === 'LMD' || datum.m === '本文方法'", "value": 2.6},
              "value": 1.3
            }
          }
        },
        {
          "data": {"values": [{}]},
          "mark": {"type": "point", "opacity": 0},
          "encoding": {
            "x": {"datum": 0, "type": "quantitative", "axis": {"orient": "top", "values": [0.2, 0.4, 0.6], "labels": false, "title": null}},
            "y": {"datum": 0, "type": "quantitative", "axis": {"orient": "right", "values": [0, 10, 20, 30], "labels": false, "title": null}}
          }
        }
      ],
      "resolve": {"axis": {"x": "independent", "y": "independent"}}
    },
    {
      "width": 335,
      "height": 256,
      "title": {
        "text": ["(b) 方位剖面对比", "(b) Azimuth profile comparison"],
        "orient": "bottom",
        "anchor": "middle",
        "offset": 56,
        "dx": -3
      },
      "layer": [
        {
          "data": {"name": "profile"},
          "mark": {"type": "line", "clip": true, "strokeWidth": 1.7},
          "encoding": {
            "x": {
              "field": "x", "type": "quantitative",
              "scale": {"domain": [260, 314], "nice": false, "zero": false},
              "axis": {"values": [260, 270, 280, 290, 300, 310], "title": "方位采样点", "labelPadding": 14, "titleBaseline": "middle", "titleY": 64, "titleX": 193}
            },
            "y": {
              "field": "v", "type": "quantitative",
              "scale": {"domain": [-60, 45.5], "nice": false, "zero": false},
              "axis": {"values": [-60, -40, -20, 0, 20, 40], "title": "幅度 (dB)", "titleX": -62}
            },
            "color": {
              "field": "m", "type": "nominal", "title": null,
              "scale": {
                "domain": ["直接成像", "PGA", "EMD", "LMD", "CVMD", "本文方法"],
                "range": ["#ff1a1a", "#22e022", "#0a0aff", "#ff00ff", "#f2a731", "#000000"]
              }
            },
            "strokeDash": {
              "field": "m", "type": "nominal", "title": null,
              "scale": {
                "domain": ["直接成像", "PGA", "EMD", "LMD", "CVMD", "本文方法"],
                "range": [[1, 0], [2, 2.5], [6, 3, 2, 3], [1.5, 2], [1, 0], [7, 5]]
              }
            }
          }
        },
        {
          "data": {"values": [{}]},
          "mark": {"type": "point", "opacity": 0},
          "encoding": {
            "x": {"datum": 260, "type": "quantitative", "axis": {"orient": "top", "values": [270, 280, 290, 300, 310], "labels": false, "title": null}}
          }
        }
      ],
      "resolve": {"axis": {"x": "independent"}}
    }
  ]
}
